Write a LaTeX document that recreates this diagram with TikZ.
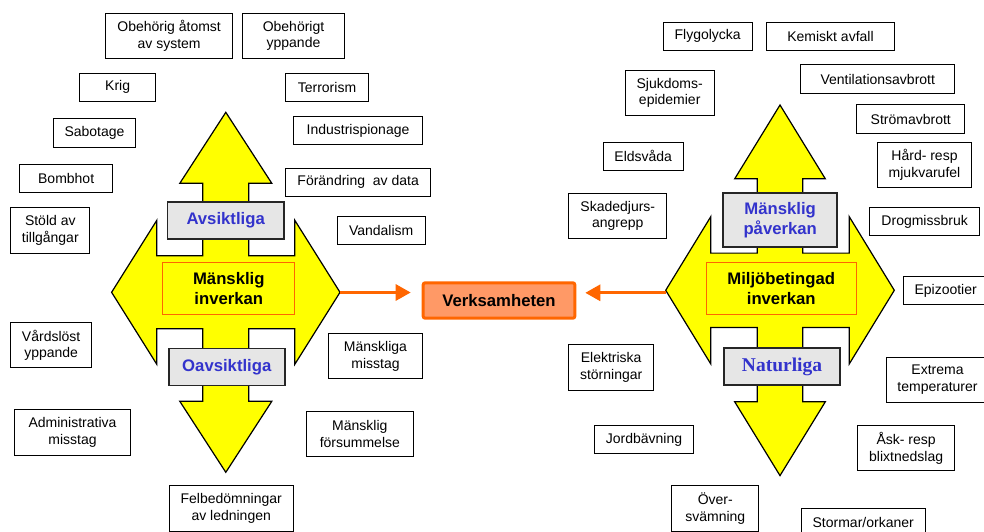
\documentclass[tikz,border=0pt]{standalone}
\usepackage{fontspec}
\setmainfont{Liberation Sans}
\newfontfamily\timesfont{Liberation Serif}
\usetikzlibrary{arrows.meta}
\definecolor{arrowyellow}{HTML}{FFFF00}
\definecolor{boxgray}{HTML}{E6E6E6}
\definecolor{labelblue}{HTML}{3333CC}
\definecolor{orangeline}{HTML}{FF6600}
\definecolor{orangefill}{HTML}{FF9966}
\tikzset{
 tbox/.style={draw=black, line width=1.3pt, fill=white, align=center, inner sep=0pt, font=\fontsize{14}{16.7}\selectfont},
 graybox/.style={draw=black!85, line width=1.5pt, fill=boxgray, align=center, inner sep=0pt, text=labelblue, font=\fontsize{16.7}{20}\selectfont\bfseries},
 corebox/.style={draw=orangeline, line width=1pt, fill=arrowyellow, align=center, inner sep=0pt, font=\fontsize{16.7}{20}\selectfont\bfseries},
 crossshape/.style={draw=black, line width=1.2pt, fill=arrowyellow, line join=miter},
 flowarrow/.style={draw=orangeline, line width=3pt, -{Triangle[length=15pt,width=16pt]}},
 goalbox/.style={draw=orangeline, line width=3pt, fill=orangefill, rounded corners=2pt, align=center, inner sep=0pt, font=\fontsize{16.7}{20}\selectfont\bfseries},
}
% #1 style, #2 name, #3 x1, #4 y1, #5 x2, #6 y2, #7 text
\newcommand{\bx}[7]{\node[#1, minimum width=#5pt-#3pt-1pt, minimum height=#6pt-#4pt-1pt] (#2) at ({(#3+#5)/2},{(#4+#6)/2}) {#7};}
% #1 vt, #2 vb, #3 vh, #4 vs, #5 ht, #6 hb, #7 hh, #8 hs
\newcommand{\drawcross}[8]{%
 \path[crossshape] (0,-#1) -- (#3,-#2) -- (#4,-#2) -- (#4,-#8) -- (#6,-#8) -- (#6,-#7) -- (#5,0) -- (#6,#7) -- (#6,#8) -- (#4,#8) -- (#4,#2) -- (#3,#2) -- (0,#1) -- (-#3,#2) -- (-#4,#2) -- (-#4,#8) -- (-#6,#8) -- (-#6,#7) -- (-#5,0) -- (-#6,-#7) -- (-#6,-#8) -- (-#4,-#8) -- (-#4,-#2) -- (-#3,-#2) -- cycle;}
\begin{document}
\begin{tikzpicture}[x=1pt,y=-1pt]
\useasboundingbox (0,0) rectangle (984,531);
\clip (0,0) rectangle (984,531);
\fill[white] (0,0) rectangle (984,531);
% crosses
\begin{scope}[shift={(225.8,292.3)}]
 \drawcross{180}{109}{46}{23}{114.2}{69}{72}{36.5}
\end{scope}
\begin{scope}[shift={(780,290.3)}]
 \drawcross{185.3}{111.5}{45.3}{22.7}{114.3}{69.2}{73.7}{37.2}
\end{scope}
\coordinate (ltip) at (340,292.5);
\coordinate (rtip) at (665.7,292.8);
% core boxes
\bx{corebox}{mi}{162.3}{262.3}{295.3}{315}{Mänsklig\\inverkan}
\bx{corebox}{mb}{705.7}{262.3}{856.7}{315.3}{Miljöbetingad\\inverkan}
% gray boxes
\bx{graybox}{avs}{167}{201.7}{284.3}{239.3}{Avsiktliga}
\bx{graybox}{oavs}{168.3}{348}{285.3}{386}{Oavsiktliga}
\bx{graybox}{mp}{722.7}{192.7}{837.7}{247.3}{Mänsklig\\påverkan}
\bx{graybox,font=\timesfont\fontsize{19.5}{22}\selectfont\bfseries}{nat}{723.3}{347.7}{840.7}{385.7}{Naturliga}
% goal
\bx{goalbox}{verk}{422.7}{282.3}{575.3}{318.7}{Verksamheten}
\draw[flowarrow, shorten >=11pt] (ltip) -- (ltip -| verk.west);
\draw[flowarrow, shorten >=9pt] (rtip) -- (rtip -| verk.east);
% left text boxes
\bx{tbox}{o1}{105}{12.7}{233.3}{59.3}{Obehörig åtomst\\av system}
\bx{tbox}{o2}{242}{12.7}{345}{59.3}{Obehörigt\\yppande}
\bx{tbox}{krig}{79}{72.7}{156.3}{101.7}{Krig}
\bx{tbox}{terror}{285.3}{72.7}{368.7}{101.7}{Terrorism}
\bx{tbox}{sabo}{53}{118.3}{136}{147.7}{Sabotage}
\bx{tbox}{indus}{293.3}{116}{422.7}{145}{Industrispionage}
\bx{tbox}{bomb}{19}{164}{113.3}{193.3}{Bombhot}
\bx{tbox}{forand}{285}{167.7}{431.3}{196.7}{Förändring\ \ av data}
\bx{tbox}{stold}{10.3}{207.3}{90.3}{254}{Stöld av\\tillgångar}
\bx{tbox}{vandal}{336.7}{216}{425.7}{245}{Vandalism}
\bx{tbox}{vard}{10.3}{322.3}{92}{368.3}{Vårdslöst\\yppande}
\bx{tbox}{admin}{14.3}{409.3}{130.7}{455.7}{Administrativa\\misstag}
\bx{tbox}{mmiss}{328.3}{333.3}{422.7}{379.3}{Mänskliga\\misstag}
\bx{tbox}{forsum}{305.7}{410.7}{414}{456.7}{Mänsklig\\försummelse}
\bx{tbox}{felbed}{168.7}{485.3}{293.7}{532}{Felbedömningar\\av ledningen}
% right text boxes
\bx{tbox}{flyg}{662.7}{21.7}{752.7}{50.7}{Flygolycka}
\bx{tbox}{kem}{766}{21.7}{895}{50.7}{Kemiskt avfall}
\bx{tbox}{sjuk}{624.7}{69.7}{714.7}{116}{Sjukdoms-\\epidemier}
\bx{tbox}{vent}{800.3}{64.3}{955.3}{93.7}{Ventilationsavbrott}
\bx{tbox}{strom}{856.3}{104.3}{965.3}{133.7}{Strömavbrott}
\bx{tbox}{elds}{602.7}{141.7}{683.7}{170.7}{Eldsvåda}
\bx{tbox}{hard}{876.7}{142}{972.3}{188.3}{Hård- resp\\mjukvarufel}
\bx{tbox}{skade}{568.3}{192.7}{667.3}{239.3}{Skadedjurs-\\angrepp}
\bx{tbox}{drog}{869.3}{207}{980}{236.3}{Drogmissbruk}
\bx{tbox}{epiz}{903.3}{276}{988}{305}{Epizootier}
\bx{tbox}{elek}{568.3}{344.3}{654}{391}{Elektriska\\störningar}
\bx{tbox}{extr}{886}{356.7}{989}{402.7}{Extrema\\temperaturer}
\bx{tbox}{jord}{594}{425}{694}{454.3}{Jordbävning}
\bx{tbox}{ask}{857.3}{425}{955}{471.3}{Åsk- resp\\blixtnedslag}
\bx{tbox}{over}{671.3}{485.3}{759.3}{532}{Över-\\svämning}
\bx{tbox}{storm}{800.7}{507.7}{925.7}{537}{Stormar/orkaner}
\end{tikzpicture}
\end{document}
